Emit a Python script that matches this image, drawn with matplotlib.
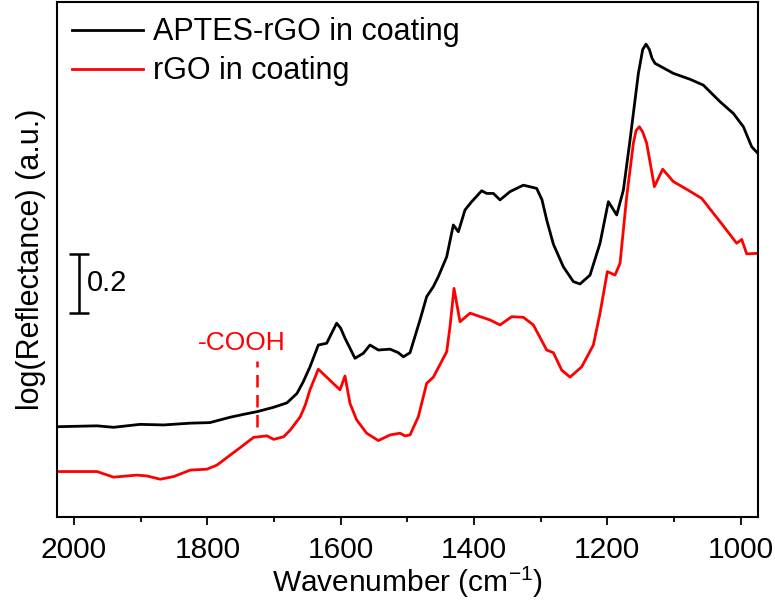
import matplotlib
matplotlib.use("Agg")
import matplotlib.pyplot as plt
from matplotlib.ticker import MultipleLocator

plt.rcParams['font.family'] = ['Liberation Sans', 'DejaVu Sans']

# APTES-rGO in coating (black)
wn_aptes = [2025.5, 1965.5, 1940.5, 1901, 1865.5, 1826, 1796, 1766, 1745.5, 1725.5,
            1700.5, 1680.5, 1665.5, 1656, 1646, 1633.5, 1621, 1612, 1606, 1600, 1593.5, 1578.5,
            1566, 1556, 1543.5, 1526, 1513.5, 1506, 1496, 1481, 1471, 1461,
            1453.5, 1441, 1431, 1423.5, 1413.5, 1403.5, 1388.5, 1381, 1371, 1361,
            1346, 1326, 1306, 1298, 1291, 1281, 1266, 1251, 1241, 1226, 1211,
            1198.5, 1186, 1176, 1166, 1153.5, 1147, 1142, 1137, 1133, 1128.5, 1101, 1076, 1056,
            1031, 1011, 996, 983.5, 973.5]
y_aptes = [0.306, 0.309, 0.304, 0.314, 0.312, 0.318, 0.320, 0.338, 0.348, 0.357,
           0.372, 0.387, 0.419, 0.459, 0.509, 0.583, 0.589, 0.630, 0.657, 0.640, 0.606, 0.538,
           0.555, 0.583, 0.566, 0.569, 0.557, 0.543, 0.557, 0.668, 0.747, 0.781,
           0.815, 0.882, 0.990, 0.967, 1.041, 1.069, 1.106, 1.097, 1.097, 1.075,
           1.103, 1.125, 1.114, 1.075, 1.007, 0.925, 0.848, 0.798, 0.790, 0.820, 0.928,
           1.069, 1.024, 1.108, 1.278, 1.504, 1.585, 1.603, 1.585, 1.555, 1.538, 1.504, 1.484, 1.464,
           1.408, 1.368, 1.323, 1.255, 1.231]

# rGO in coating (red)
wn_rgo = [2025.5, 1965.5, 1940.5, 1905.5, 1890.5, 1870.5, 1850.5, 1825.5, 1800.5, 1785.5,
          1765.5, 1745.5, 1730.5, 1710.5, 1700.5, 1685.5, 1675.5, 1660.5, 1653, 1646,
          1633.5, 1601, 1593.5, 1586, 1576, 1561, 1543.5, 1526, 1511, 1503.5,
          1496, 1483.5, 1471, 1461, 1441, 1436, 1430, 1421, 1406, 1376,
          1361, 1343.5, 1326, 1311, 1291, 1281, 1268.5, 1256, 1238.5, 1221,
          1211, 1200, 1188.5, 1181, 1171, 1161, 1157, 1152, 1147, 1141, 1129.5, 1117,
          1101, 1081, 1058.5, 1031, 1006, 998.5, 991, 973.5]
y_rgo = [0.154, 0.154, 0.135, 0.142, 0.139, 0.128, 0.137, 0.159, 0.162, 0.176,
         0.210, 0.244, 0.270, 0.275, 0.263, 0.272, 0.295, 0.340, 0.380, 0.431,
         0.501, 0.431, 0.478, 0.385, 0.329, 0.284, 0.259, 0.278, 0.284, 0.275,
         0.278, 0.340, 0.453, 0.474, 0.560, 0.645, 0.775, 0.662, 0.691, 0.668,
         0.651, 0.679, 0.677, 0.651, 0.566, 0.557, 0.498, 0.474, 0.509, 0.583,
         0.691, 0.832, 0.820, 0.860, 1.086, 1.267, 1.310, 1.323, 1.305, 1.267, 1.120, 1.179,
         1.137, 1.111, 1.080, 1.001, 0.928, 0.941, 0.892, 0.894]

series_labels = ["APTES-rGO in coating", "rGO in coating"]
cooh_wn = 1725.5
scale_value = 0.2

fig = plt.figure(figsize=(7.75, 6.05), dpi=100)
ax = fig.add_axes([0.0735, 0.1455, 0.9042, 0.8512])

ax.plot(wn_aptes, y_aptes, color='black', lw=2.0, label=series_labels[0])
ax.plot(wn_rgo, y_rgo, color='#ff0000', lw=2.0, label=series_labels[1])

ax.set_xlim(2025.5, 974.5)
ax.set_ylim(0, 1.746)
ax.set_yticks([])
ax.xaxis.set_major_locator(MultipleLocator(200))
ax.xaxis.set_minor_locator(MultipleLocator(100))
ax.tick_params(axis='x', which='major', direction='out', length=6, width=1.3,
               labelsize=21.5, pad=8)
ax.tick_params(axis='x', which='minor', direction='out', length=3.5, width=1.3)
for s in ax.spines.values():
    s.set_linewidth(1.5)

ax.set_xlabel("Wavenumber (cm$\\mathregular{^{-1}}$)", fontsize=21.5, labelpad=0)
ax.set_ylabel("log(Reflectance) (a.u.)", fontsize=22)
ax.yaxis.set_label_coords(-0.016, 0.5)

# -COOH marker
ax.plot([cooh_wn, cooh_wn], [0.305, 0.529], color='#ff0000', lw=1.8, ls=(0, (5, 3)))
ax.text(1749, 0.59, "-COOH", color='#ff0000', fontsize=19, ha='center', va='center')

# scale bar
sb_x = 1992.5
sb_y0 = 0.692
ax.errorbar([sb_x], [sb_y0 + scale_value / 2], yerr=[[scale_value / 2], [scale_value / 2]],
            color='black', capsize=7, elinewidth=1.8, capthick=1.8, fmt='none')
ax.text(1981, sb_y0 + scale_value / 2, f"{scale_value}", fontsize=21, ha='left', va='center')

leg = ax.legend(loc='upper left', frameon=False, fontsize=22, handlelength=2.3,
                handletextpad=0.35, borderpad=0.0, borderaxespad=0.5, labelspacing=0.3)

fig.savefig("out.png", dpi=100)
